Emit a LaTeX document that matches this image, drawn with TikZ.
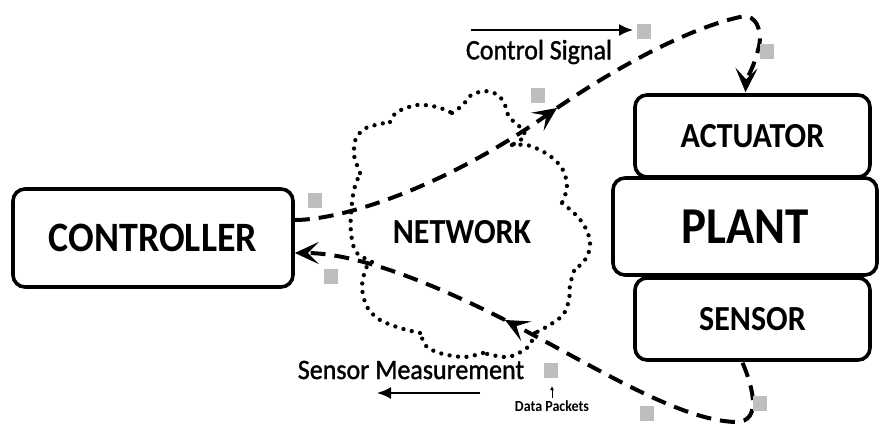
\documentclass[tikz,border=0pt]{standalone}
\usepackage{fontspec}
\setmainfont{Carlito}
\newfontfamily\heavyfont{Carlito}[BoldFont=Carlito, BoldFeatures={FakeBold=1.4}]
\usepackage{graphicx}
\usetikzlibrary{arrows.meta,calc}
\definecolor{pktgray}{RGB}{190,190,190}
\newcommand\tallbold[2]{{\fontsize{#1pt}{#1pt}\selectfont\bfseries\scalebox{1}[1.1]{#2}}}
\newcommand\tallplain[2]{{\heavyfont\bfseries\fontsize{#1pt}{#1pt}\selectfont\scalebox{1}[1.08]{#2}}}
\tikzset{
  block/.style={draw, line width=3.6pt, rounded corners=12pt, inner sep=0pt},
  packet/.style={fill=pktgray, minimum width=14pt, minimum height=15pt, inner sep=0pt},
  link/.style={line width=4pt, dash pattern=on 15pt off 9pt},
  tip/.style={-{Stealth[length=24pt,width=22pt,inset=11pt]}},
  flowarrow/.style={line width=2pt, -{Latex[length=14pt,width=12pt]}},
  cloudline/.style={line width=4.3pt, dash pattern=on 0pt off 8.5pt, line cap=round},
  lbl/.style={inner sep=0pt}
}
\begin{document}
\begin{tikzpicture}[x=1pt,y=-1pt]
\useasboundingbox (0,0) rectangle (879,428);

% blocks
\node[block, minimum width=280pt, minimum height=98pt] (ctrl) at (153,238) {\tallbold{38}{CONTROLLER}};
\node[block, minimum width=235pt, minimum height=82pt] (act) at (752.5,136) {\tallbold{32}{ACTUATOR}};
\node[block, minimum width=264pt, minimum height=97pt] (plant) at (745,226.5) {\tallbold{47}{PLANT}};
\node[block, minimum width=235pt, minimum height=82pt] (sens) at (752.5,319) {\tallbold{32}{SENSOR}};

% network cloud, one lobe after another
\draw[cloudline]
  plot[smooth] coordinates {(360,173) (354,155) (356,138) (366,128) (380,124) (390,122)}
  plot[smooth] coordinates {(390,122) (397,112) (417,105) (437,107) (452,113)}
  plot[smooth] coordinates {(452,113) (463,105) (470,96) (484,91) (498,95) (505,105) (509,117) (519,126) (525,136) (512,145)}
  plot[smooth] coordinates {(512,145) (527,145) (542,151) (555,160) (564,172) (567,188) (562,203)}
  plot[smooth] coordinates {(562,203) (574,213) (584,225) (590,241) (587,257) (574,271)}
  plot[smooth] coordinates {(574,271) (570,285) (569,300) (563,315) (548,326) (535,333)}
  plot[smooth] coordinates {(535,333) (528,347) (508,357) (483,353)}
  plot[smooth] coordinates {(483,353) (465,357) (443,354) (427,347) (420,333)}
  plot[smooth] coordinates {(420,333) (400,328) (380,320) (367,307) (362,287) (366,268) (372,262)}
  plot[smooth] coordinates {(372,262) (356,252) (351,233) (351,213) (354,190) (360,173)};
\node[lbl] (net) at (462,232) {\tallbold{32}{NETWORK}};

% control signal path: controller -> network -> actuator
\coordinate (cs) at ($(ctrl.east)+(0,-18)$);
\coordinate (m1) at (557,108);
\coordinate (top) at (740,17);
\coordinate (bend) at (758,50);
\coordinate (ain) at ($(act.north)+(-7,-1)$);
\draw[link,tip] (cs) .. controls (340,220) and (440,190) .. (m1);
\draw[link,tip] (m1) .. controls (620,65) and (690,28) .. (top)
  .. controls (758,12) and (763,35) .. (bend)
  .. controls (754,67) and (746,80) .. (ain);

% measurement path: sensor -> network -> controller
\coordinate (ss) at ($(sens.south)+(-10,1)$);
\coordinate (low) at (735,422);
\coordinate (m2) at (505,320);
\coordinate (ce) at ($(ctrl.east)+(0,15)$);
\draw[link,tip] (ss) .. controls (750,380) and (765,423) .. (low)
  .. controls (680,420) and (600,370) .. (m2);
\draw[link,tip] (m2) .. controls (440,287) and (360,253) .. (ce);

% data packets
\node[packet] (p1) at (644,32) {};
\node[packet] (p2) at (767,52) {};
\node[packet] (p3) at (538,96) {};
\node[packet] (p4) at (315,200) {};
\node[packet] (p5) at (331,276) {};
\node[packet] (p6) at (551,370) {};
\node[packet] (p7) at (647,413) {};
\node[packet] (p8) at (760,403) {};

% labels and flow arrows
\node[lbl] (cslbl) at (539,52) {\tallplain{26}{Control Signal}};
\coordinate (csa) at (471,30);
\coordinate (csb) at (633,30);
\draw[flowarrow] (csa) -- (csb);

\node[lbl] (smlbl) at (411,370) {\tallplain{26}{Sensor Measurement}};
\coordinate (sma) at (480,393);
\coordinate (smb) at (377,393);
\draw[flowarrow] (sma) -- (smb);

\node[lbl] (dplbl) at (552,406) {\tallbold{14}{Data Packets}};
\coordinate (dpa) at (552,398);
\coordinate (dpb) at (552,386);
\draw[line width=0.9pt, -{Latex[length=4pt,width=4pt]}] (dpa) -- (dpb);
\end{tikzpicture}
\end{document}
